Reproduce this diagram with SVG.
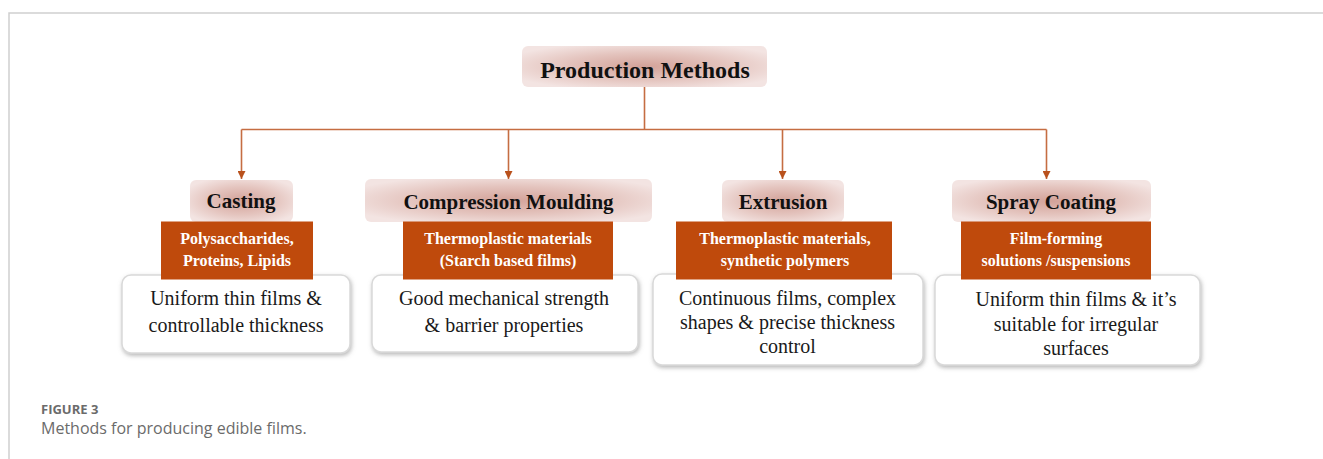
<svg xmlns="http://www.w3.org/2000/svg" width="1323" height="459" viewBox="0 0 1323 459">
<style>
.frame{stroke:#cfcfcf;stroke-width:1.5;fill:none}
.conn{stroke:#c56d42;stroke-width:1.6;fill:none}
.hdr{fill:url(#pink)}
.org{fill:#bf4a0c}
.wht{fill:#ffffff;stroke:#d9d9d9;stroke-width:1.5;filter:url(#sh)}
.ht{font-family:"Liberation Serif","Times New Roman",serif;font-weight:bold;font-size:21px;fill:#111;text-anchor:middle}
.tt{font-family:"Liberation Serif","Times New Roman",serif;font-weight:bold;font-size:24px;fill:#111;text-anchor:middle}
.ot{font-family:"Liberation Serif","Times New Roman",serif;font-weight:bold;font-size:16px;fill:#ffffff;text-anchor:middle}
.wt{font-family:"Liberation Serif","Times New Roman",serif;font-size:20px;fill:#1a1a1a;text-anchor:middle}
.cap1{font-family:"Open Sans","Noto Sans",sans-serif;font-weight:bold;font-size:13px;fill:#6b6b6b}
.cap2{font-family:"Open Sans","Noto Sans",sans-serif;font-size:16px;fill:#6b6b6b}
</style>
<defs>
<radialGradient id="pink" cx="0.5" cy="0.5" r="0.6">
<stop offset="0" stop-color="#d3a299"/>
<stop offset="0.55" stop-color="#e4c4be"/>
<stop offset="1" stop-color="#f3e4e2"/>
</radialGradient>
<filter id="sh" x="-5%" y="-10%" width="110%" height="125%">
<feDropShadow dx="1" dy="2" stdDeviation="2" flood-color="#888" flood-opacity="0.6"/>
</filter>
<marker id="arr" viewBox="0 0 10 10" refX="10" refY="5" markerWidth="8" markerHeight="8" markerUnits="userSpaceOnUse" orient="auto">
<path d="M0,0 L10,5 L0,10 Z" fill="#b9511c"/>
</marker>
</defs>
<rect width="1323" height="459" fill="#ffffff"/>
<path class="frame" d="M9,459 V13 H1323"/>

<g id="connectors">
<path class="conn" d="M644.5,87 V129.5"/>
<path class="conn" d="M241.5,129.5 H1046.5"/>
<path class="conn" d="M241.5,129.5 V179" marker-end="url(#arr)"/>
<path class="conn" d="M508.5,129.5 V179" marker-end="url(#arr)"/>
<path class="conn" d="M782.5,129.5 V179" marker-end="url(#arr)"/>
<path class="conn" d="M1046.5,129.5 V179" marker-end="url(#arr)"/>
</g>

<g id="production-methods">
<rect class="hdr" x="522" y="46" width="245" height="41" rx="6"/>
<text class="tt" x="645" y="78">Production Methods</text>
</g>

<g id="casting">
<rect class="wht" x="122" y="275" width="228" height="78" rx="9"/>
<rect class="hdr" x="190" y="180" width="103" height="42" rx="6"/>
<text class="ht" x="241" y="208">Casting</text>
<rect class="org" x="161" y="221.5" width="152" height="58"/>
<text class="ot" x="237" y="244">Polysaccharides,</text>
<text class="ot" x="237" y="265.5">Proteins, Lipids</text>
<text class="wt" x="236" y="305">Uniform thin films &amp;</text>
<text class="wt" x="236" y="331.5">controllable thickness</text>
</g>

<g id="compression-moulding">
<rect class="wht" x="372" y="275" width="266" height="77" rx="9"/>
<rect class="hdr" x="365" y="179" width="287" height="43" rx="6"/>
<text class="ht" x="508.5" y="208.5">Compression Moulding</text>
<rect class="org" x="403" y="221.5" width="210" height="58"/>
<text class="ot" x="508" y="244">Thermoplastic materials</text>
<text class="ot" x="508" y="265.5">(Starch based films)</text>
<text class="wt" x="504" y="305">Good mechanical strength</text>
<text class="wt" x="504" y="331.5">&amp; barrier properties</text>
</g>

<g id="extrusion">
<rect class="wht" x="653" y="274" width="270" height="91" rx="9"/>
<rect class="hdr" x="722" y="180" width="122" height="42" rx="6"/>
<text class="ht" x="783" y="208.5">Extrusion</text>
<rect class="org" x="676" y="221.5" width="216" height="58"/>
<text class="ot" x="785" y="244">Thermoplastic materials,</text>
<text class="ot" x="785" y="265.5">synthetic polymers</text>
<text class="wt" x="787.5" y="305">Continuous films, complex</text>
<text class="wt" x="787.5" y="329">shapes &amp; precise thickness</text>
<text class="wt" x="787.5" y="353">control</text>
</g>

<g id="spray-coating">
<rect class="wht" x="935" y="275" width="265" height="90" rx="9"/>
<rect class="hdr" x="952" y="180" width="199" height="42" rx="6"/>
<text class="ht" x="1051" y="208.5">Spray Coating</text>
<rect class="org" x="961" y="221.5" width="190" height="58"/>
<text class="ot" x="1056" y="244">Film-forming</text>
<text class="ot" x="1056" y="265.5">solutions /suspensions</text>
<text class="wt" x="1076" y="306">Uniform thin films &amp; it’s</text>
<text class="wt" x="1076" y="331">suitable for irregular</text>
<text class="wt" x="1076" y="355">surfaces</text>
</g>

<g id="caption">
<text class="cap1" x="41" y="414">FIGURE 3</text>
<text class="cap2" x="41" y="434">Methods for producing edible films.</text>
</g>
</svg>
